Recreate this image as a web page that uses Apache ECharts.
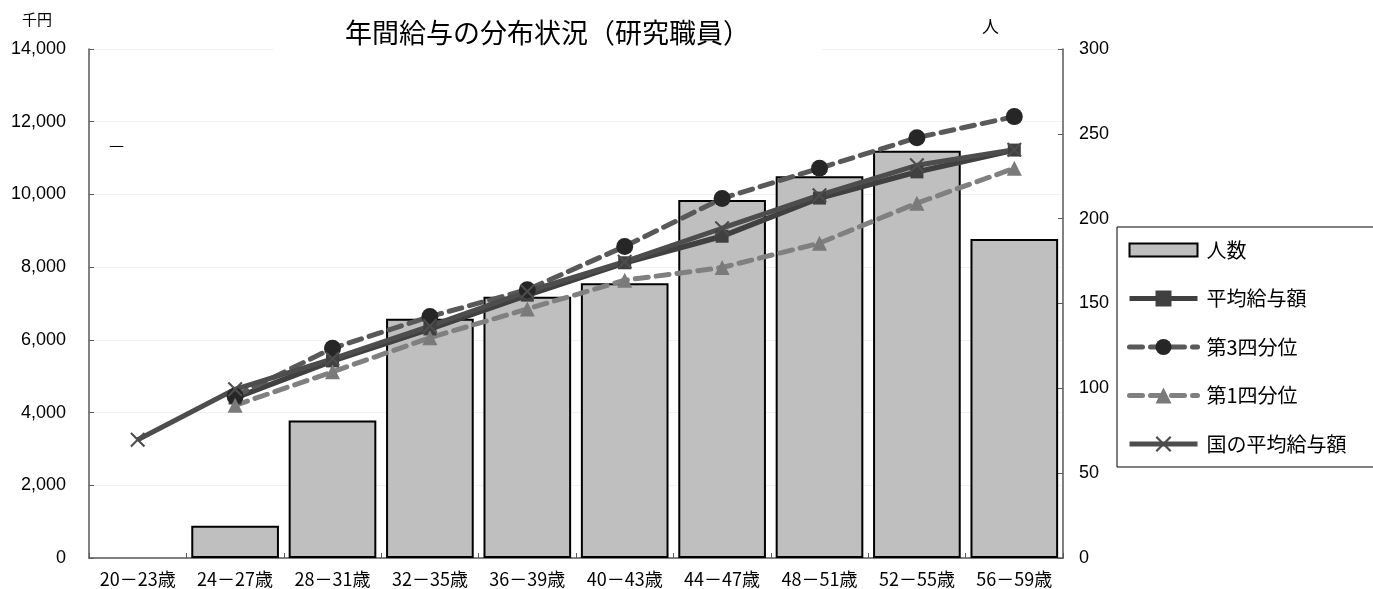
<!DOCTYPE html>
<html>
<head>
<meta charset="utf-8">
<script src="https://cdn.jsdelivr.net/npm/echarts@6/dist/echarts.min.js"></script>
<style>
html,body{margin:0;padding:0;background:#fff;}
#chart{width:1373px;height:589px;}
</style>
</head>
<body>
<div id="chart"></div>
<script>
var categories = ['20－23歳','24－27歳','28－31歳','32－35歳','36－39歳','40－43歳','44－47歳','48－51歳','52－55歳','56－59歳'];
var headcount = [null, 19, 81, 141, 154, 162, 211, 225, 240, 188];
var avgPay = [null, 4400, 5420, 6300, 7230, 8120, 8850, 9900, 10620, 11220];
var q3Pay = [null, 4450, 5770, 6640, 7380, 8570, 9890, 10720, 11560, 12140];
var q1Pay = [null, 4200, 5120, 6060, 6850, 7640, 7990, 8660, 9760, 10720];
var natlPay = [3250, 4640, 5480, 6380, 7330, 8150, 9070, 9980, 10800, 11230];
var leftTicks = {min: 0, max: 14000, interval: 2000};
var rightTicks = {min: 0, max: 300, interval: 50};

var CJK = "'Noto Sans CJK JP', sans-serif";
var NUM = "'Liberation Sans', Arial, sans-serif";
var crossPath = 'path://M0,1L1,0L5,4L9,0L10,1L6,5L10,9L9,10L5,6L1,10L0,9L4,5Z';

var chart = echarts.init(document.getElementById('chart'));
chart.setOption({
  animation: false,
  backgroundColor: '#fff',
  title: {
    text: '年間給与の分布状況（研究職員）',
    left: 273,
    top: 13,
    padding: [6, 72, 6, 72],
    backgroundColor: '#fff',
    textStyle: {fontFamily: CJK, fontSize: 27, fontWeight: 'normal', color: '#000'}
  },
  graphic: [
    {type: 'text', left: 22, top: 12, style: {text: '千円', font: "15px 'Noto Sans CJK JP'", fill: '#000'}},
    {type: 'text', left: 982, top: 18, style: {text: '人', font: "17px 'Noto Sans CJK JP'", fill: '#000'}},
    {type: 'text', left: 109, top: 136, style: {text: '—', font: "17px 'Noto Sans CJK JP'", fill: '#000'}}
  ],
  legend: {
    orient: 'vertical',
    left: 1117,
    top: 227,
    padding: [13, 40, 13, 10],
    itemGap: 28.5,
    itemWidth: 68,
    itemHeight: 20,
    symbolKeepAspect: true,
    borderColor: '#000',
    borderWidth: 1,
    backgroundColor: '#fff',
    lineStyle: {width: 5},
    textStyle: {fontFamily: CJK, fontSize: 20, color: '#000', padding: [0, 0, 0, 4]},
    data: [
      {name: '人数', icon: 'path://M0,0H68V13H0Z'},
      {name: '平均給与額'},
      {name: '第3四分位'},
      {name: '第1四分位'},
      {name: '国の平均給与額'}
    ]
  },
  grid: {left: 89, right: 310, top: 49, bottom: 31, containLabel: false},
  xAxis: {
    type: 'category',
    data: categories,
    axisLine: {lineStyle: {color: '#595959', width: 1.5}},
    axisTick: {show: true, inside: true, length: 5, lineStyle: {color: '#595959'}},
    axisLabel: {fontFamily: CJK, fontSize: 18, color: '#000', margin: 12, interval: 0}
  },
  yAxis: [
    {
      type: 'value',
      min: leftTicks.min, max: leftTicks.max, interval: leftTicks.interval,
      axisLine: {show: true, lineStyle: {color: '#595959', width: 1.5}},
      axisTick: {show: true, inside: true, length: 5, lineStyle: {color: '#595959'}},
      axisLabel: {fontFamily: NUM, fontSize: 18, color: '#000', margin: 23},
      splitLine: {show: true, lineStyle: {color: '#f2f2f2', width: 1}}
    },
    {
      type: 'value',
      position: 'right',
      min: rightTicks.min, max: rightTicks.max, interval: rightTicks.interval,
      axisLine: {show: true, lineStyle: {color: '#595959', width: 1.5}},
      axisTick: {show: true, inside: true, length: 5, lineStyle: {color: '#595959'}},
      axisLabel: {fontFamily: NUM, fontSize: 18, color: '#000', margin: 16},
      splitLine: {show: false}
    }
  ],
  series: [
    {
      name: '人数',
      type: 'bar',
      yAxisIndex: 1,
      data: headcount,
      barWidth: '90%',
      itemStyle: {color: '#bfbfbf', borderColor: '#000', borderWidth: 2}
    },
    {
      name: '平均給与額',
      type: 'line',
      yAxisIndex: 0,
      data: avgPay,
      symbol: 'rect',
      symbolSize: 13,
      lineStyle: {color: '#404040', width: 5.5},
      itemStyle: {color: '#404040'}
    },
    {
      name: '第3四分位',
      type: 'line',
      yAxisIndex: 0,
      data: q3Pay,
      symbol: 'circle',
      symbolSize: 17,
      lineStyle: {color: '#595959', width: 5, type: [13, 8], cap: 'round'},
      itemStyle: {color: '#262626'}
    },
    {
      name: '第1四分位',
      type: 'line',
      yAxisIndex: 0,
      data: q1Pay,
      symbol: 'triangle',
      symbolSize: 15,
      lineStyle: {color: '#808080', width: 5, type: [13, 8], cap: 'round'},
      itemStyle: {color: '#7a7a7a'}
    },
    {
      name: '国の平均給与額',
      type: 'line',
      yAxisIndex: 0,
      data: natlPay,
      symbol: crossPath,
      symbolSize: 15,
      lineStyle: {color: '#4d4d4d', width: 5},
      itemStyle: {color: '#4d4d4d'}
    }
  ]
});
</script>
</body>
</html>
